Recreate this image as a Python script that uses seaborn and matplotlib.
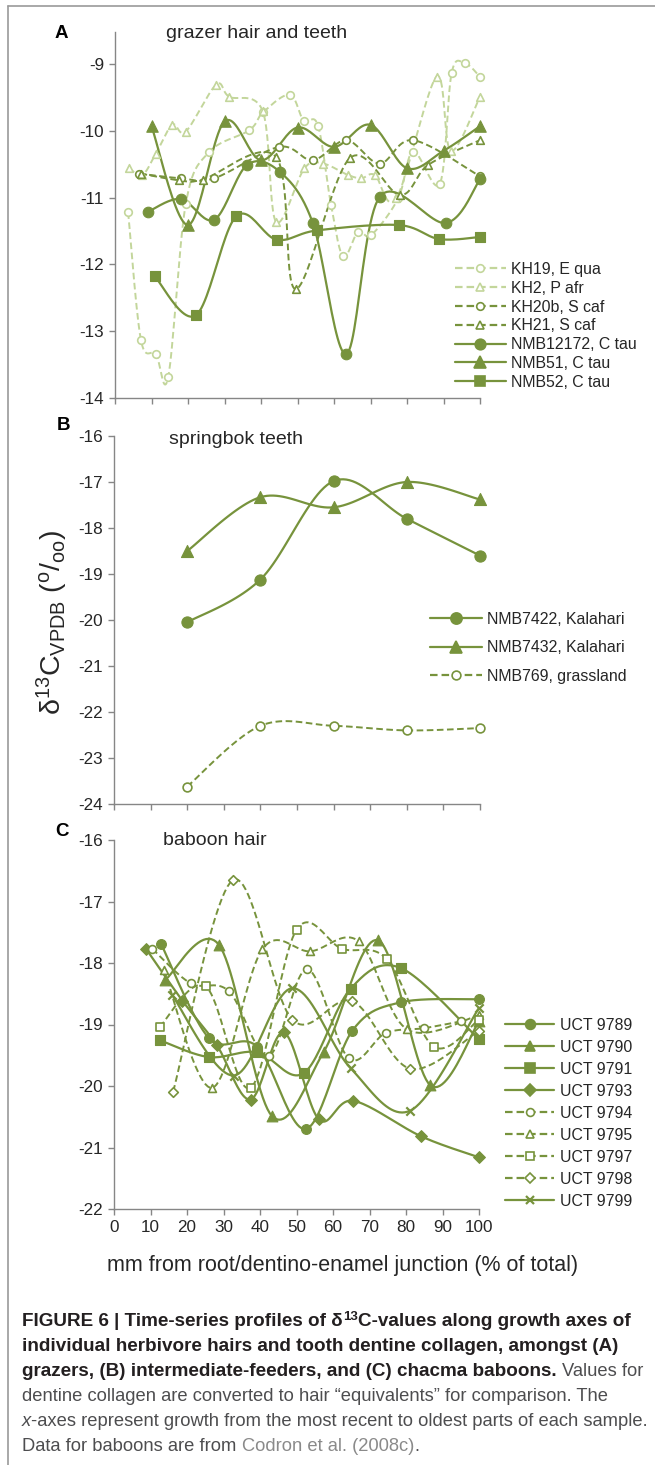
import numpy as np
import matplotlib
matplotlib.use("Agg")
import matplotlib.pyplot as plt
from matplotlib.lines import Line2D
import seaborn as sns

# ---------------- data ----------------
# Panel A: grazer hair and teeth
KH19_x = [3.6, 7.1, 11.2, 14.6, 19.4, 25.7, 36.8, 40.6, 47.9, 51.7, 55.6, 59.2, 62.5, 66.6, 70.2, 77.6, 81.7, 89.0, 92.2, 95.9, 100]
KH19_y = [-11.22, -13.13, -13.34, -13.68, -11.09, -10.32, -9.99, -9.72, -9.46, -9.85, -9.92, -11.11, -11.88, -11.51, -11.56, -11.01, -10.31, -10.79, -9.14, -8.99, -9.19]
KH2_x = [3.8, 7.5, 11.2, 15.7, 19.4, 27.7, 31.3, 40.5, 44.1, 51.9, 57.0, 63.8, 67.5, 71.2, 77.1, 88.1, 92.0, 100]
KH2_y = [-10.56, -10.66, -10.34, -9.91, -10.01, -9.31, -9.49, -9.71, -11.36, -10.56, -10.49, -10.66, -10.71, -10.66, -11.01, -9.19, -10.30, -9.49]
KH20b_x = [6.6, 18.0, 27.2, 45.0, 54.2, 63.4, 72.5, 81.7, 100]
KH20b_y = [-10.64, -10.71, -10.71, -10.24, -10.44, -10.14, -10.49, -10.14, -10.68]
KH21_x = [7.0, 17.6, 24.0, 44.1, 49.5, 64.3, 78.0, 85.8, 100]
KH21_y = [-10.64, -10.74, -10.73, -10.39, -12.37, -10.41, -10.96, -10.51, -10.14]
NMB12172_x = [9.1, 18.0, 27.2, 36.2, 45.3, 54.2, 63.4, 72.5, 90.7, 100]
NMB12172_y = [-11.21, -11.02, -11.33, -10.51, -10.62, -11.38, -13.34, -10.99, -11.38, -10.72]
NMB51_x = [10, 20, 30, 40, 50, 60, 70, 80, 90, 100]
NMB51_y = [-9.93, -11.41, -9.86, -10.44, -9.95, -10.24, -9.91, -10.56, -10.30, -9.93]
NMB52_x = [10.9, 22.2, 33.2, 44.3, 55.4, 77.7, 88.8, 100]
NMB52_y = [-12.18, -12.76, -11.28, -11.63, -11.49, -11.41, -11.62, -11.59]

# Panel B: springbok teeth
B_x = [20, 40, 60, 80, 100]
NMB7422_y = [-20.05, -19.12, -16.98, -17.80, -18.60]
NMB7432_y = [-18.50, -17.33, -17.55, -17.00, -17.38]
NMB769_y = [-23.62, -22.30, -22.30, -22.40, -22.35]

# Panel C: baboon hair
U9789_x = [12.9, 26.0, 39.2, 52.5, 65.3, 78.5, 100]
U9789_y = [-17.69, -19.22, -19.36, -20.70, -19.10, -18.64, -18.59]
U9790_x = [14.1, 28.7, 43.3, 57.5, 72.3, 86.7, 100]
U9790_y = [-18.27, -17.70, -20.49, -19.44, -17.63, -19.99, -18.95]
U9791_x = [12.7, 26.0, 39.2, 52.0, 64.8, 78.5, 100]
U9791_y = [-19.26, -19.53, -19.45, -19.79, -18.42, -18.08, -19.24]
U9793_x = [8.9, 18.7, 28.1, 37.4, 46.5, 56.1, 65.5, 84.2, 100]
U9793_y = [-17.78, -18.61, -19.33, -20.22, -19.13, -20.54, -20.24, -20.82, -21.16]
U9794_x = [10.5, 21.0, 31.5, 42.4, 52.9, 64.3, 74.4, 84.9, 95.0]
U9794_y = [-17.77, -18.33, -18.46, -19.51, -18.10, -19.55, -19.14, -19.06, -18.95]
U9795_x = [13.7, 26.9, 40.6, 53.8, 67.1, 80.3, 100]
U9795_y = [-18.11, -20.03, -17.78, -17.81, -17.65, -19.08, -18.85]
U9797_x = [12.5, 25.1, 37.4, 50.0, 62.5, 74.8, 87.6, 100]
U9797_y = [-19.04, -18.38, -20.03, -17.46, -17.77, -17.94, -19.36, -18.92]
U9798_x = [16.2, 32.6, 48.8, 65.3, 81.2, 100]
U9798_y = [-20.09, -16.65, -18.92, -18.62, -19.72, -19.10]
U9799_x = [15.9, 32.8, 48.8, 64.8, 81.2, 100]
U9799_y = [-18.52, -19.83, -18.41, -19.71, -20.40, -18.73]

x_ticks = [0, 10, 20, 30, 40, 50, 60, 70, 80, 90, 100]
A_yticks = [-14, -13, -12, -11, -10, -9]
B_yticks = [-24, -23, -22, -21, -20, -19, -18, -17, -16]
C_yticks = [-22, -21, -20, -19, -18, -17, -16]

# ---------------- style ----------------
sns.set_style("ticks")
plt.rcParams['font.family'] = ['Liberation Sans', 'DejaVu Sans']
plt.rcParams['mathtext.fontset'] = 'custom'
plt.rcParams['mathtext.rm'] = 'Liberation Sans'
plt.rcParams['mathtext.it'] = 'Liberation Sans:italic'
plt.rcParams['mathtext.bf'] = 'Liberation Sans:bold'

DARK = '#77933C'
LIGHT = '#C3D69B'
AXC = '#868686'
TXT = '#262626'
DASH = (3.4, 1.8)

W, H = 655, 1465
fig = plt.figure(figsize=(W / 100, H / 100), dpi=100)


def fx(px):
    return px / W


def fy(py):
    return 1 - py / H


def add_axes(left, right, top, bottom):
    return fig.add_axes([fx(left), fy(bottom), (right - left) / W, (bottom - top) / H])


def smooth(x, y, n=24):
    P = np.column_stack([np.asarray(x, float), np.asarray(y, float)])
    m = len(P)
    if m < 3:
        return P[:, 0], P[:, 1]
    out = []
    t = np.linspace(0, 1, n)[:, None]
    for i in range(m - 1):
        p0 = P[i - 1] if i > 0 else P[i]
        p3 = P[i + 2] if i + 2 < m else P[i + 1]
        c1 = P[i] + (P[i + 1] - p0) / 6.0
        c2 = P[i + 1] - (p3 - P[i]) / 6.0
        seg = ((1 - t) ** 3) * P[i] + 3 * ((1 - t) ** 2) * t * c1 + 3 * (1 - t) * t ** 2 * c2 + t ** 3 * P[i + 1]
        out.append(seg if i == 0 else seg[1:])
    S = np.vstack(out)
    return S[:, 0], S[:, 1]


def series(ax, x, y, color, ls, marker, filled, ms, lw=1.6):
    sx, sy = smooth(x, y)
    sns.lineplot(x=sx, y=sy, sort=False, estimator=None, ax=ax, legend=False,
                 color=color, linewidth=lw, clip_on=False)
    if ls == 'dash':
        ax.lines[-1].set_dashes(DASH)
    if marker == 'x':
        sns.scatterplot(x=x, y=y, ax=ax, marker='x', s=ms, color=color, linewidth=1.6,
                        legend=False, zorder=4, clip_on=False)
    elif filled:
        sns.scatterplot(x=x, y=y, ax=ax, marker=marker, s=ms, color=color, edgecolor=color,
                        linewidth=0.8, legend=False, zorder=4, clip_on=False)
    else:
        sns.scatterplot(x=x, y=y, ax=ax, marker=marker, s=ms, color='white', edgecolor=color,
                        linewidth=1.2, legend=False, zorder=4, clip_on=False)


def handle(color, ls, marker, filled, ms):
    msz = np.sqrt(ms)
    return Line2D([0], [0], color=color, linewidth=1.6,
                  linestyle=(0, DASH) if ls == 'dash' else '-',
                  marker=marker, markersize=msz,
                  markerfacecolor=(color if (filled or marker == 'x') else 'white'),
                  markeredgecolor=color, markeredgewidth=1.2 if marker != 'x' else 1.6)


def style_ax(ax, ylim, yticks, xlabels=False):
    ax.set_xlim(0, 100)
    ax.set_ylim(*ylim)
    ax.set_xticks(x_ticks)
    ax.set_yticks(yticks)
    ax.set_yticklabels([str(v) for v in yticks])
    for s in ['top', 'right']:
        ax.spines[s].set_visible(False)
    for s in ['left', 'bottom']:
        ax.spines[s].set_color(AXC)
        ax.spines[s].set_linewidth(1.0)
    ax.tick_params(axis='both', direction='out', length=4, width=1.0, color=AXC,
                   labelsize=12.3, labelcolor=TXT, pad=4)
    if not xlabels:
        ax.tick_params(axis='x', labelbottom=False)
    ax.set_xlabel('')
    ax.set_ylabel('')
    ax.patch.set_alpha(0)


def legend(ax, handles, labels, left_px, top_px, hlen, spacing, tpad):
    leg = ax.legend(handles, labels, loc='upper left', bbox_to_anchor=(fx(left_px), fy(top_px)),
                    bbox_transform=fig.transFigure, frameon=False, fontsize=11.4,
                    borderpad=0, borderaxespad=0, handlelength=hlen, handletextpad=tpad,
                    labelspacing=spacing)
    for t in leg.get_texts():
        t.set_color(TXT)
    return leg


# ---------------- Panel A ----------------
axA = add_axes(115, 480, 32, 398)
MS_F, MS_O = 58, 30
series(axA, KH19_x, KH19_y, LIGHT, 'dash', 'o', False, MS_O, lw=1.4)
series(axA, KH2_x, KH2_y, LIGHT, 'dash', '^', False, MS_O, lw=1.4)
series(axA, KH20b_x, KH20b_y, DARK, 'dash', 'o', False, MS_O, lw=1.4)
series(axA, KH21_x, KH21_y, DARK, 'dash', '^', False, MS_O, lw=1.4)
series(axA, NMB12172_x, NMB12172_y, DARK, 'solid', 'o', True, MS_F)
series(axA, NMB51_x, NMB51_y, DARK, 'solid', '^', True, MS_F + 10)
series(axA, NMB52_x, NMB52_y, DARK, 'solid', 's', True, MS_F)
style_ax(axA, (-14, -8.52), A_yticks)
hA = [handle(LIGHT, 'dash', 'o', False, MS_O), handle(LIGHT, 'dash', '^', False, MS_O),
      handle(DARK, 'dash', 'o', False, MS_O), handle(DARK, 'dash', '^', False, MS_O),
      handle(DARK, 'solid', 'o', True, MS_F), handle(DARK, 'solid', '^', True, MS_F + 10),
      handle(DARK, 'solid', 's', True, MS_F)]
lA = ['KH19, E qua', 'KH2, P afr', 'KH20b, S caf', 'KH21, S caf',
      'NMB12172, C tau', 'NMB51, C tau', 'NMB52, C tau']
legend(axA, hA, lA, 455, 262, 3.2, 0.24, 0.35)
fig.text(fx(61), fy(33), 'A', fontsize=13.5, fontweight='bold', ha='center', va='center', color='black')
fig.text(fx(166), fy(33), 'grazer hair and teeth', fontsize=14, ha='left', va='center', color=TXT)

# ---------------- Panel B ----------------
axB = add_axes(114, 480, 436, 804)
series(axB, B_x, NMB7422_y, DARK, 'solid', 'o', True, 65)
series(axB, B_x, NMB7432_y, DARK, 'solid', '^', True, 75)
series(axB, B_x, NMB769_y, DARK, 'dash', 'o', False, 40, lw=1.4)
style_ax(axB, (-24, -16), B_yticks)
hB = [handle(DARK, 'solid', 'o', True, 65), handle(DARK, 'solid', '^', True, 75),
      handle(DARK, 'dash', 'o', False, 40)]
lB = ['NMB7422, Kalahari', 'NMB7432, Kalahari', 'NMB769, grassland']
legend(axB, hB, lB, 430, 612, 3.3, 0.85, 0.28)
fig.text(fx(63), fy(425), 'B', fontsize=13.5, fontweight='bold', ha='center', va='center', color='black')
fig.text(fx(169), fy(440), 'springbok teeth', fontsize=14, ha='left', va='center', color=TXT)

# ---------------- Panel C ----------------
axC = add_axes(114, 479, 840, 1209)
MSC_F, MSC_O = 50, 32
series(axC, U9789_x, U9789_y, DARK, 'solid', 'o', True, MSC_F)
series(axC, U9790_x, U9790_y, DARK, 'solid', '^', True, MSC_F + 10)
series(axC, U9791_x, U9791_y, DARK, 'solid', 's', True, MSC_F)
series(axC, U9793_x, U9793_y, DARK, 'solid', 'D', True, MSC_F - 14)
series(axC, U9794_x, U9794_y, DARK, 'dash', 'o', False, MSC_O, lw=1.4)
series(axC, U9795_x, U9795_y, DARK, 'dash', '^', False, MSC_O, lw=1.4)
series(axC, U9797_x, U9797_y, DARK, 'dash', 's', False, MSC_O, lw=1.4)
series(axC, U9798_x, U9798_y, DARK, 'dash', 'D', False, MSC_O - 8, lw=1.4)
series(axC, U9799_x, U9799_y, DARK, 'solid', 'x', True, 36)
style_ax(axC, (-22, -16), C_yticks, xlabels=True)
axC.set_xticklabels([str(v) for v in x_ticks])
hC = [handle(DARK, 'solid', 'o', True, MSC_F), handle(DARK, 'solid', '^', True, MSC_F + 10),
      handle(DARK, 'solid', 's', True, MSC_F), handle(DARK, 'solid', 'D', True, MSC_F - 14),
      handle(DARK, 'dash', 'o', False, MSC_O), handle(DARK, 'dash', '^', False, MSC_O),
      handle(DARK, 'dash', 's', False, MSC_O), handle(DARK, 'dash', 'D', False, MSC_O - 8),
      handle(DARK, 'solid', 'x', True, 36)]
lC = ['UCT 9789', 'UCT 9790', 'UCT 9791', 'UCT 9793', 'UCT 9794',
      'UCT 9795', 'UCT 9797', 'UCT 9798', 'UCT 9799']
legend(axC, hC, lC, 505, 1018, 3.1, 0.44, 0.38)
fig.text(fx(62), fy(832), 'C', fontsize=13.5, fontweight='bold', ha='center', va='center', color='black')
fig.text(fx(163), fy(841), 'baboon hair', fontsize=14, ha='left', va='center', color=TXT)

# shared labels
fig.text(fx(52), fy(622), r'$\mathrm{\delta}^{13}\mathrm{C}_{\mathrm{VPDB}}$ ($^{\mathrm{o}}/_{\mathrm{oo}}$)',
         rotation=90, fontsize=20.5, ha='center', va='center', color=TXT)
fig.text(fx(343), fy(1265), 'mm from root/dentino-enamel junction (% of total)',
         fontsize=15.5, ha='center', va='center', color=TXT)

# frame border
fig.add_artist(Line2D([fx(8), fx(8)], [fy(6), 0], transform=fig.transFigure, color='#9a9a9a', linewidth=1.2))
fig.add_artist(Line2D([fx(8), 1], [fy(6), fy(6)], transform=fig.transFigure, color='#9a9a9a', linewidth=1.2))

# ---------------- caption ----------------
renderer = fig.canvas.get_renderer()
CAPB = 13.6
CAPR = 13.2
BOLD = dict(fontsize=CAPB, fontweight='bold', color='#231f20')
REG = dict(fontsize=CAPR, color='#4d4d4f')
LINK = dict(fontsize=CAPR, color='#8a8a8a')
ITAL = dict(fontsize=CAPR, color='#4d4d4f', style='italic')
SUP = dict(fontsize=CAPB * 0.7, fontweight='bold', color='#231f20')


def rich_line(px, py, pieces):
    x = px
    for s, kw, dy in pieces:
        t = fig.text(fx(x), fy(py + dy), s, ha='left', va='baseline', **kw)
        bb = t.get_window_extent(renderer)
        x += bb.width


probe1 = fig.text(0, 0, 'x x', **REG)
probe2 = fig.text(0, 0, 'xx', **REG)
SP = probe1.get_window_extent(renderer).width - probe2.get_window_extent(renderer).width
probe1.remove()
probe2.remove()

base = 1326
step = 25
rich_line(22, base, [('FIGURE 6 | Time-series profiles of \u03b4', BOLD, 0), ('13', SUP, -6),
                     ('C-values along growth axes of', BOLD, 0)])
rich_line(22, base + step, [('individual herbivore hairs and tooth dentine collagen, amongst (A)', BOLD, 0)])
fig.text(fx(22), fy(base + 2 * step), 'grazers, (B) intermediate-feeders, and (C) chacma baboons.',
         ha='left', va='baseline', **BOLD)
tb = fig.texts[-1].get_window_extent(renderer)
fig.text(fx(22) + (tb.width + SP) / W, fy(base + 2 * step), 'Values for', ha='left', va='baseline', **REG)
fig.text(fx(22), fy(base + 3 * step),
         'dentine collagen are converted to hair \u201cequivalents\u201d for comparison. The',
         ha='left', va='baseline', **REG)
rich_line(22, base + 4 * step, [('x', ITAL, 0),
                                ('-axes represent growth from the most recent to oldest parts of each sample.', REG, 0)])
t6 = fig.text(fx(22), fy(base + 5 * step), 'Data for baboons are from', ha='left', va='baseline', **REG)
w6 = t6.get_window_extent(renderer).width
t7 = fig.text(fx(22) + (w6 + SP) / W, fy(base + 5 * step), 'Codron et al. (2008c)', ha='left', va='baseline', **LINK)
w7 = t7.get_window_extent(renderer).width
fig.text(fx(22) + (w6 + SP + w7) / W, fy(base + 5 * step), '.', ha='left', va='baseline', **REG)

fig.savefig('out.png', dpi=100)
